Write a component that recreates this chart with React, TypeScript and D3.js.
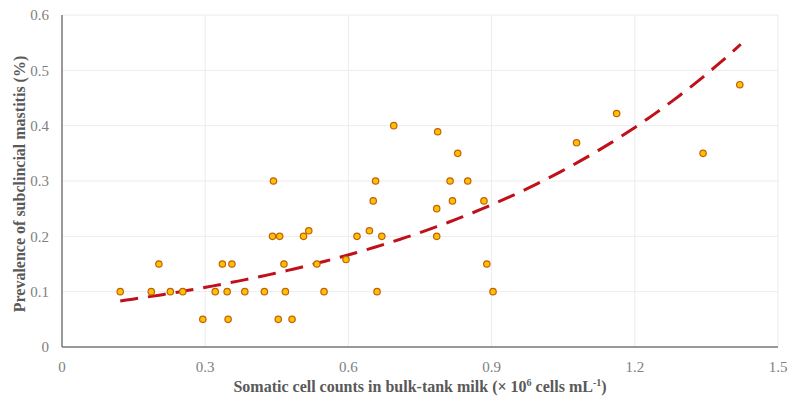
import React from "react";
import * as d3 from "d3";

const W = 795;
const H = 407;

const xTicks = [0, 0.3, 0.6, 0.9, 1.2, 1.5];
const yTicks = [0, 0.1, 0.2, 0.3, 0.4, 0.5, 0.6];

const scc = [
  0.122, 0.187, 0.203, 0.227, 0.253, 0.295, 0.321, 0.336, 0.346, 0.348,
  0.356, 0.383, 0.424, 0.443, 0.441, 0.456, 0.453, 0.465, 0.468, 0.482,
  0.506, 0.517, 0.534, 0.549, 0.595, 0.618, 0.644, 0.652, 0.657, 0.670,
  0.660, 0.695, 0.787, 0.829, 0.813, 0.850, 0.818, 0.785, 0.884, 0.785,
  0.890, 0.903, 1.078, 1.162, 1.343, 1.420,
];
const prevalence = [
  0.10, 0.10, 0.15, 0.10, 0.10, 0.05, 0.10, 0.15, 0.10, 0.05,
  0.15, 0.10, 0.10, 0.30, 0.20, 0.20, 0.05, 0.15, 0.10, 0.05,
  0.20, 0.21, 0.15, 0.10, 0.158, 0.20, 0.21, 0.264, 0.30, 0.20,
  0.10, 0.40, 0.389, 0.35, 0.30, 0.30, 0.264, 0.25, 0.264, 0.20,
  0.15, 0.10, 0.369, 0.422, 0.35, 0.474,
];

// exponential trend y = a * exp(b x)
const trendA = 0.0698;
const trendB = 1.448;
const trendRange = [0.122, 1.422];

const margin = { left: 62, right: 17, top: 15, bottom: 60 };

export default function App() {
  const x = d3.scaleLinear().domain([0, 1.5]).range([margin.left, W - margin.right]);
  const y = d3.scaleLinear().domain([0, 0.6]).range([H - margin.bottom, margin.top]);

  const trendX = d3.range(0, 101).map(
    (i) => trendRange[0] + ((trendRange[1] - trendRange[0]) * i) / 100
  );
  const line = d3
    .line<number>()
    .x((d) => x(d))
    .y((d) => y(trendA * Math.exp(trendB * d)))
    .curve(d3.curveLinear);

  const font = "'Liberation Serif', 'Times New Roman', serif";
  const data = scc.map((v, i) => ({ x: v, y: prevalence[i] }));

  return (
    <svg width={W} height={H} style={{ position: "absolute", left: 0, top: 0, background: "#fff" }}>
      <rect width={W} height={H} fill="#fff" />
      {/* grid */}
      {yTicks.map((t) => (
        <line key={"gy" + t} x1={x(0)} x2={x(1.5)} y1={y(t)} y2={y(t)} stroke="#ececec" strokeWidth={1} />
      ))}
      {xTicks.map((t) => (
        <line key={"gx" + t} x1={x(t)} x2={x(t)} y1={y(0)} y2={y(0.6)} stroke="#ececec" strokeWidth={1} />
      ))}
      {/* axes */}
      <line x1={x(0)} x2={x(0)} y1={y(0)} y2={y(0.6)} stroke="#7a7a7a" strokeWidth={1.5} />
      <line x1={x(0)} x2={x(1.5)} y1={y(0)} y2={y(0)} stroke="#7a7a7a" strokeWidth={1.5} />
      {/* tick labels */}
      {yTicks.map((t) => (
        <text key={"ty" + t} x={x(0) - 13} y={y(t)} dy="0.35em" textAnchor="end" fontFamily={font} fontSize={15} fill="#808080">
          {t === 0 ? "0" : t.toFixed(1)}
        </text>
      ))}
      {xTicks.map((t) => (
        <text key={"tx" + t} x={x(t)} y={y(0) + 20} dy="0.35em" textAnchor="middle" fontFamily={font} fontSize={15} fill="#808080">
          {t === 0 ? "0" : t.toFixed(1)}
        </text>
      ))}
      {/* trend */}
      <path d={line(trendX) || ""} fill="none" stroke="#C0101A" strokeWidth={3} strokeDasharray="18,10" />
      {/* points */}
      {data.map((d, i) => (
        <circle key={i} cx={x(d.x)} cy={y(d.y)} r={3.2} fill="#FFC000" stroke="#C0600C" strokeWidth={1.2} />
      ))}
      {/* axis titles */}
      <text x={(x(0) + x(1.5)) / 2} y={H - 15} textAnchor="middle" fontFamily={font} fontSize={16} fontWeight="bold" fill="#595959">
        Somatic cell counts in bulk-tank milk (× 10
        <tspan fontSize={10} dy={-6}>6</tspan>
        <tspan dy={6}> cells mL</tspan>
        <tspan fontSize={10} dy={-6}>-1</tspan>
        <tspan dy={6}>)</tspan>
      </text>
      <text
        transform={`translate(${19},${(y(0) + y(0.6)) / 2 + 3}) rotate(-90)`}
        textAnchor="middle"
        dy="0.35em"
        fontFamily={font}
        fontSize={16}
        fontWeight="bold"
        fill="#595959"
      >
        Prevalence of subclincial mastitis (%)
      </text>
    </svg>
  );
}
